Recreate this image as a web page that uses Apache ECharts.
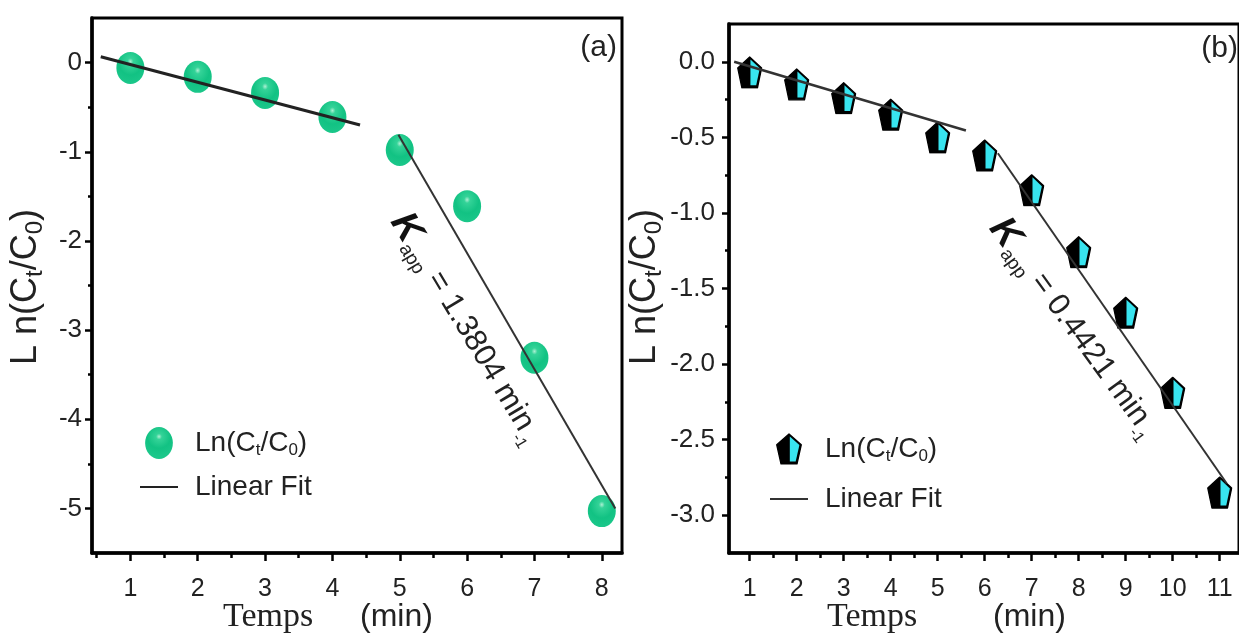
<!DOCTYPE html>
<html>
<head>
<meta charset="utf-8" />
<title>Ln(Ct/C0) vs Temps</title>
<script src="https://cdn.jsdelivr.net/npm/echarts@6/dist/echarts.min.js"></script>
<style>
  html, body { margin: 0; padding: 0; background: #fff; }
  #chart { width: 1239px; height: 640px; }
</style>
</head>
<body>
<div id="chart"></div>
<script>
// panel (a)
var timeA = [1, 2, 3, 4, 5, 6, 7, 8];
var lnA = [-0.06, -0.16, -0.34, -0.61, -0.98, -1.61, -3.31, -5.03];
var fitA1x = [0.56, 4.41];
var fitA1y = [0.066, -0.70];
var fitA2x = [4.98, 8.2];
var fitA2y = [-0.81, -5.0];
var xTicksA = [1, 2, 3, 4, 5, 6, 7, 8];
var xMinorA = [0.5, 1.5, 2.5, 3.5, 4.5, 5.5, 6.5, 7.5];
var yTicksA = [0, -1, -2, -3, -4, -5];
var yMinorA = [-0.5, -1.5, -2.5, -3.5, -4.5];

// panel (b)
var timeB = [1, 2, 3, 4, 5, 6, 7, 8, 9, 10, 11];
var lnB = [-0.07, -0.15, -0.24, -0.35, -0.50, -0.62, -0.85, -1.26, -1.66, -2.19, -2.85];
var fitB1x = [0.67, 5.6];
var fitB1y = [0.0, -0.455];
var fitB2x = [6.28, 11.15];
var fitB2y = [-0.605, -2.79];
var xTicksB = [1, 2, 3, 4, 5, 6, 7, 8, 9, 10, 11];
var xMinorB = [1.5, 2.5, 3.5, 4.5, 5.5, 6.5, 7.5, 8.5, 9.5, 10.5];
var yTicksB = [0, -0.5, -1, -1.5, -2, -2.5, -3];
var yMinorB = [-0.25, -0.75, -1.25, -1.75, -2.25, -2.75];

var FONT = 'Liberation Sans, Arial, sans-serif';
var SERIF = 'Liberation Serif, Times New Roman, serif';

function zip(xs, ys) {
  return xs.map(function (x, i) { return [x, ys[i]]; });
}

var ballPath = 'path://M13 0 A13 15 0 1 1 13 30 A13 15 0 1 1 13 0 Z';
var ballColor = new echarts.graphic.RadialGradient(0.5, 0.3, 0.7, [
  { offset: 0, color: '#aef0d4' },
  { offset: 0.15, color: '#34d398' },
  { offset: 0.6, color: '#12c283' },
  { offset: 1, color: '#1bc78a' }
]);

var pentaSvg = '<svg xmlns="http://www.w3.org/2000/svg" width="100" height="120" viewBox="0 0 100 120">' +
  '<polygon points="50,4 96,44 80,116 20,116 4,44" fill="#000" stroke="#000" stroke-width="5" stroke-linejoin="round"/>' +
  '<polygon points="53,13 89,45 75,107 53,107" fill="#38e4ef"/></svg>';
var pentaSymbol = 'image://data:image/svg+xml;charset=utf-8,' + encodeURIComponent(pentaSvg);

function majorX(grid, min, max, ticks) {
  return {
    gridIndex: grid, type: 'value', min: min, max: max, position: 'bottom',
    axisLine: { onZero: false, lineStyle: { color: '#000', width: 3.5 } },
    axisTick: { customValues: ticks, length: 8, lineStyle: { color: '#000', width: 2.5 } },
    axisLabel: { customValues: ticks, fontSize: 25, margin: 24, color: '#222', fontFamily: FONT },
    splitLine: { show: false }
  };
}
function minorX(grid, min, max, ticks) {
  return {
    gridIndex: grid, type: 'value', min: min, max: max, position: 'bottom',
    axisLine: { show: false, onZero: false },
    axisTick: { customValues: ticks, length: 5, lineStyle: { color: '#000', width: 2.5 } },
    axisLabel: { show: false },
    splitLine: { show: false }
  };
}
function majorY(grid, min, max, ticks, fmt, margin) {
  return {
    gridIndex: grid, type: 'value', min: min, max: max, position: 'left',
    axisLine: { onZero: false, lineStyle: { color: '#000', width: 3.5 } },
    axisTick: { customValues: ticks, length: 7, lineStyle: { color: '#000', width: 2.5 } },
    axisLabel: { customValues: ticks, fontSize: 26, margin: margin, color: '#222', fontFamily: FONT, formatter: fmt },
    splitLine: { show: false }
  };
}
function minorY(grid, min, max, ticks) {
  return {
    gridIndex: grid, type: 'value', min: min, max: max, position: 'left',
    axisLine: { show: false, onZero: false },
    axisTick: { customValues: ticks, length: 4, lineStyle: { color: '#000', width: 2.5 } },
    axisLabel: { show: false },
    splitLine: { show: false }
  };
}

var legendRich = {
  f: { fontSize: 28, lineHeight: 32, padding: [0, 0, 0, 12], fontFamily: FONT, color: '#222' },
  n: { fontSize: 28, lineHeight: 32, fontFamily: FONT, color: '#222' },
  s: { fontSize: 17, lineHeight: 12, verticalAlign: 'bottom', fontFamily: FONT, color: '#222' }
};
function legendFmt(name) {
  if (name.indexOf('pts') >= 0) return '{f|Ln(C}{s|t}{n|/C}{s|0}{n|)}';
  return '{f|Linear Fit}';
}

var titleRich = {
  n: { fontSize: 36, lineHeight: 42, fontFamily: FONT, fill: '#222' },
  s: { fontSize: 24, lineHeight: 18, verticalAlign: 'bottom', fontFamily: FONT, fill: '#222' }
};
var titleText = '{n|L n(C}{s|t}{n|/C}{s|0}{n|)}';

var annRich = {
  k: { fontSize: 38, lineHeight: 42, fontWeight: 'bold', fontStyle: 'italic', fontFamily: FONT, fill: '#111' },
  a: { fontSize: 19, lineHeight: 12, verticalAlign: 'bottom', fontFamily: FONT, fill: '#222' },
  t: { fontSize: 31, lineHeight: 42, fontFamily: FONT, fill: '#222' },
  m: { fontSize: 16, lineHeight: 12, verticalAlign: 'bottom', fontFamily: FONT, fill: '#222' }
};

function txt(x, y, text, font, size, align) {
  return {
    type: 'text', x: x, y: y, silent: true,
    style: { text: text, fontFamily: font, fontSize: size, fill: '#222',
      align: align || 'left', textAlign: align || 'left',
      verticalAlign: 'middle', textVerticalAlign: 'middle' }
  };
}

var chart = echarts.init(document.getElementById('chart'), null, { renderer: 'canvas' });
var option = {
  animation: false,
  backgroundColor: '#fff',
  grid: [
    { left: 92, top: 18, width: 530, height: 535, show: true, borderColor: '#000', borderWidth: 3, backgroundColor: 'transparent' },
    { left: 729, top: 24, width: 512, height: 529, show: true, borderColor: '#000', borderWidth: 3, backgroundColor: 'transparent' }
  ],
  xAxis: [
    majorX(0, 0.43, 8.3, xTicksA),
    majorX(1, 0.56, 11.41, xTicksB),
    minorX(0, 0.43, 8.3, xMinorA),
    minorX(1, 0.56, 11.41, xMinorB)
  ],
  yAxis: [
    majorY(0, -5.5, 0.5, yTicksA, function (v) { return String(v); }, 10),
    majorY(1, -3.25, 0.25, yTicksB, function (v) { return v.toFixed(1); }, 14),
    minorY(0, -5.5, 0.5, yMinorA),
    minorY(1, -3.25, 0.25, yMinorB)
  ],
  legend: [
    { data: ['a_pts', { name: 'a_fit', itemStyle: { opacity: 0 } }], orient: 'vertical', left: 134, top: 422,
      itemWidth: 38, itemHeight: 32, itemGap: 14,
      selectedMode: false, formatter: legendFmt, textStyle: { rich: legendRich } },
    { data: ['b_pts', { name: 'b_fit', itemStyle: { opacity: 0 } }], orient: 'vertical', left: 764, top: 428,
      itemWidth: 38, itemHeight: 32, itemGap: 20,
      selectedMode: false, formatter: legendFmt, textStyle: { rich: legendRich } }
  ],
  series: [
    { name: 'a_pts', type: 'scatter', xAxisIndex: 0, yAxisIndex: 0, data: zip(timeA, lnA),
      symbol: ballPath, symbolSize: [28, 32], itemStyle: { color: ballColor, opacity: 1 }, z: 2 },
    { name: 'a_fit', type: 'line', xAxisIndex: 0, yAxisIndex: 0, data: zip(fitA1x, fitA1y),
      symbol: 'none', itemStyle: { color: '#222' }, lineStyle: { color: '#222', width: 3 }, z: 3 },
    { name: 'a_fit', type: 'line', xAxisIndex: 0, yAxisIndex: 0, data: zip(fitA2x, fitA2y),
      symbol: 'none', itemStyle: { color: '#333' }, lineStyle: { color: '#333', width: 2 }, z: 3 },
    { name: 'b_pts', type: 'scatter', xAxisIndex: 1, yAxisIndex: 1, data: zip(timeB, lnB),
      symbol: pentaSymbol, symbolSize: [26, 33], itemStyle: { opacity: 1 }, z: 2 },
    { name: 'b_fit', type: 'line', xAxisIndex: 1, yAxisIndex: 1, data: zip(fitB1x, fitB1y),
      symbol: 'none', itemStyle: { color: '#333' }, lineStyle: { color: '#333', width: 2.5 }, z: 3 },
    { name: 'b_fit', type: 'line', xAxisIndex: 1, yAxisIndex: 1, data: zip(fitB2x, fitB2y),
      symbol: 'none', itemStyle: { color: '#333' }, lineStyle: { color: '#333', width: 2 }, z: 3 }
  ],
  graphic: [
    { type: 'text', x: 26, y: 287, rotation: Math.PI / 2, silent: true,
      style: { text: titleText, rich: titleRich, align: 'center', textAlign: 'center', verticalAlign: 'middle', textVerticalAlign: 'middle' } },
    { type: 'text', x: 645, y: 287, rotation: Math.PI / 2, silent: true,
      style: { text: titleText, rich: titleRich, align: 'center', textAlign: 'center', verticalAlign: 'middle', textVerticalAlign: 'middle' } },
    txt(223, 617, 'Temps', SERIF, 34),
    txt(360, 617, '(min)', FONT, 32),
    txt(827, 617, 'Temps', SERIF, 34),
    txt(993, 617, '(min)', FONT, 32),
    txt(617, 48, '(a)', FONT, 30, 'right'),
    txt(1238, 49, '(b)', FONT, 30, 'right'),
    { type: 'text', x: 399, y: 216, rotation: -59 * Math.PI / 180, silent: true,
      style: { text: '{k|K}{a|app}{t| = 1.3804 min}{m|-1}', rich: annRich, align: 'left', textAlign: 'left', verticalAlign: 'middle', textVerticalAlign: 'middle' } },
    { type: 'text', x: 997, y: 222, rotation: -54 * Math.PI / 180, silent: true,
      style: { text: '{k|K}{a|app}{t| = 0.4421 min}{m|-1}', rich: annRich, align: 'left', textAlign: 'left', verticalAlign: 'middle', textVerticalAlign: 'middle' } }
  ]
};
chart.setOption(option);
</script>
</body>
</html>
